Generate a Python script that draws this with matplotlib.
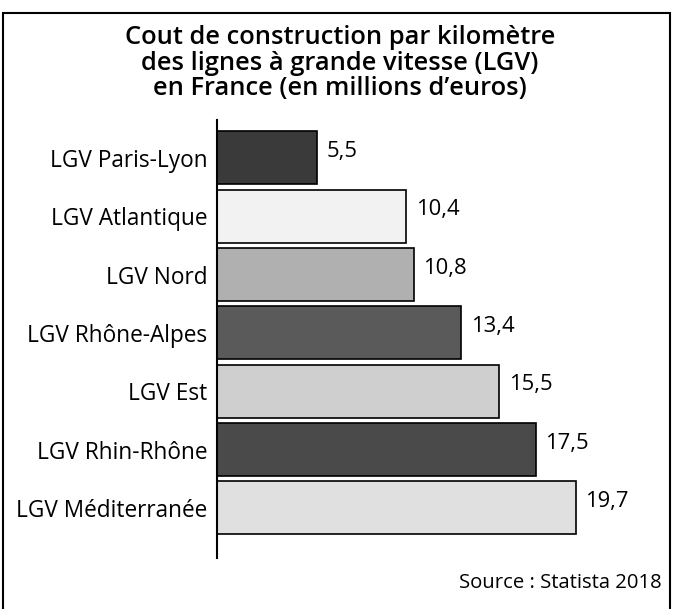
import matplotlib
matplotlib.use("Agg")
import matplotlib.pyplot as plt
from matplotlib.patches import Rectangle

categories = ["LGV Paris-Lyon", "LGV Atlantique", "LGV Nord", "LGV Rhône-Alpes",
              "LGV Est", "LGV Rhin-Rhône", "LGV Méditerranée"]
values = [5.5, 10.4, 10.8, 13.4, 15.5, 17.5, 19.7]
value_labels = ["5,5", "10,4", "10,8", "13,4", "15,5", "17,5", "19,7"]
colors = ["#3a3a3a", "#f2f2f2", "#b0b0b0", "#5a5a5a", "#cfcfcf", "#4a4a4a", "#e0e0e0"]

plt.rcParams['font.family'] = ['Open Sans', 'DejaVu Sans']

W, H = 675, 609
fig = plt.figure(figsize=(W / 100, H / 100), dpi=100)
fig.patch.set_facecolor("white")

# outer frame
fig.patches.append(Rectangle((3 / W, -0.02), (670 - 3) / W, 1.02 - 13 / H,
                             transform=fig.transFigure, fill=False,
                             edgecolor="black", linewidth=1.5))

ax = fig.add_axes([217 / W, 1 - 558 / H, (660 - 217) / W, (558 - 120) / H])
ypos = list(range(len(categories)))
bars = ax.barh(ypos, values, height=0.91, color=colors, edgecolor="black", linewidth=1.2)
ax.set_xlim(0, (660 - 217) / 18.2)
ax.set_ylim(6.86, -0.65)
for s in ["top", "right", "bottom"]:
    ax.spines[s].set_visible(False)
ax.spines["left"].set_linewidth(1.5)
ax.set_xticks([])
ax.set_yticks(ypos)
ax.set_yticklabels(categories, fontsize=16.3)
ax.tick_params(axis="y", length=0, pad=7)

for y, v, lab in zip(ypos, values, value_labels):
    ax.annotate(lab, (v, y), xytext=(7, 4.5), textcoords="offset points",
                ha="left", va="center", fontsize=15.8)

fig.text(340 / W, 1 - 63 / H,
         "Cout de construction par kilomètre\ndes lignes à grande vitesse (LGV)\nen France (en millions d’euros)",
         ha="center", va="center", fontsize=18.4, fontweight="semibold", linespacing=1.02)
fig.text(662 / W, 1 - 583 / H, "Source : Statista 2018", ha="right", va="center", fontsize=14.6)

fig.savefig("out.png", dpi=100)
